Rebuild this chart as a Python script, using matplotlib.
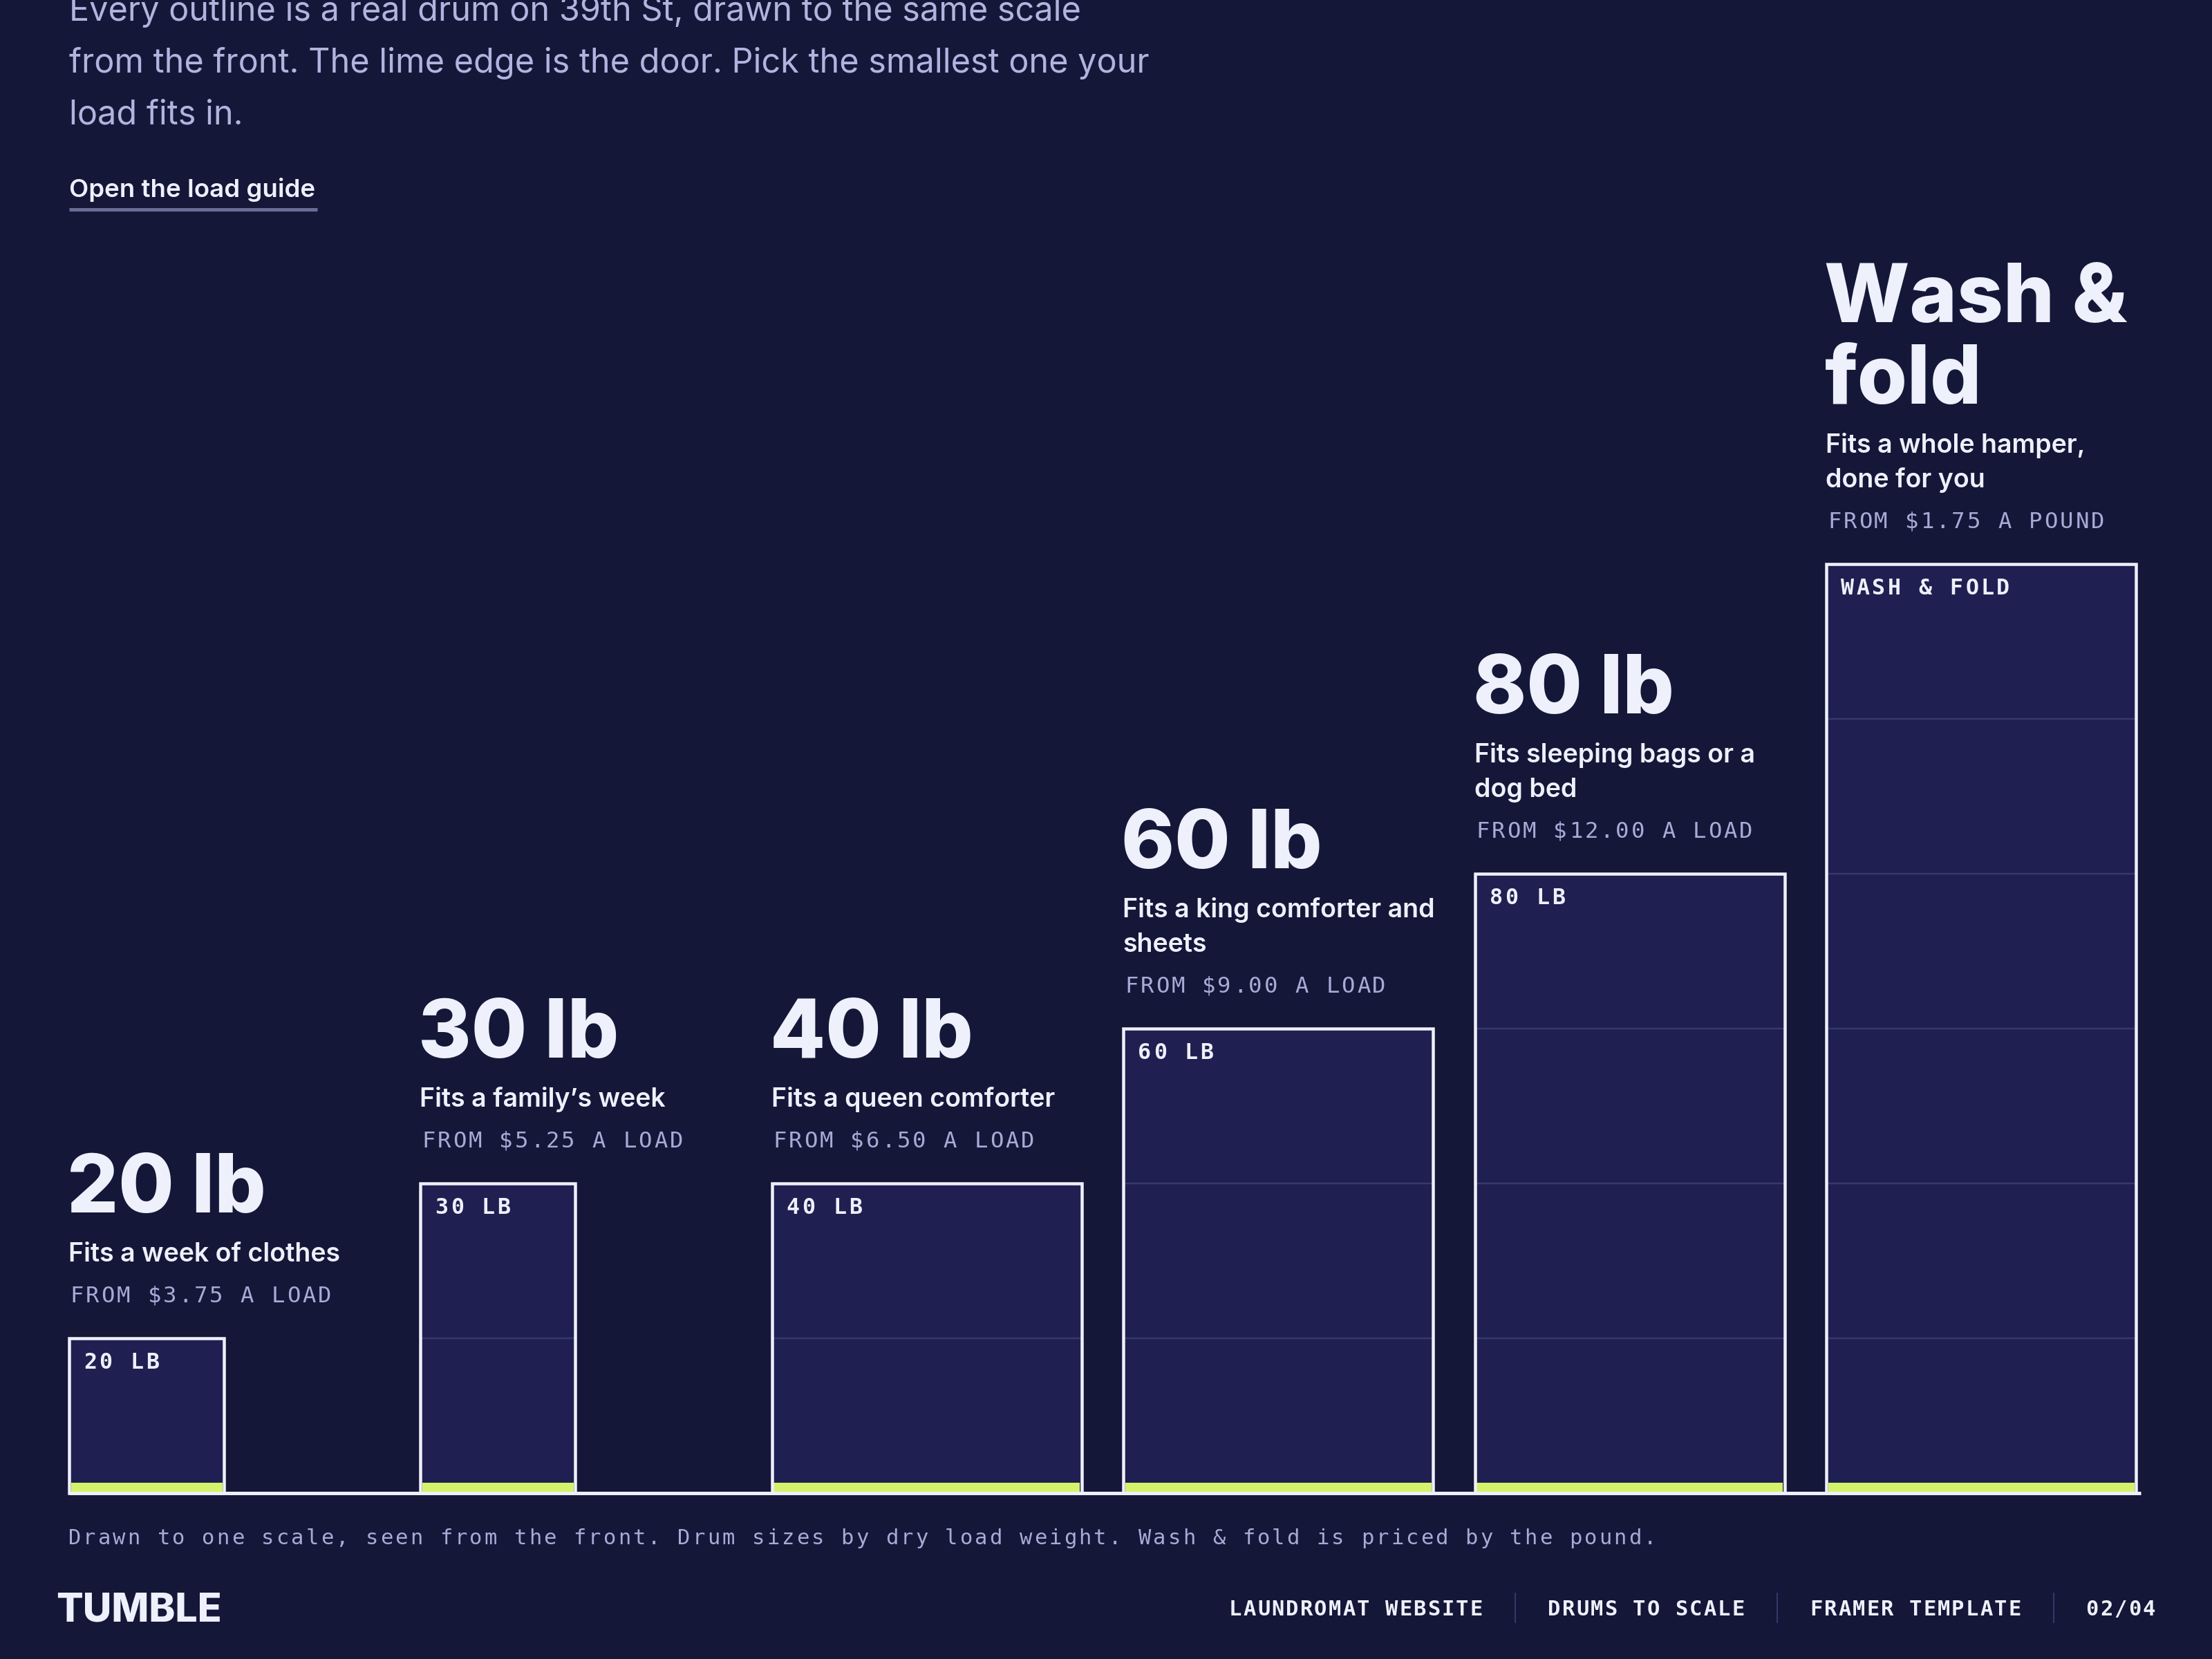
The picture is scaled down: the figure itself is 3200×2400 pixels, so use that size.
import matplotlib
matplotlib.use("Agg")
import matplotlib.pyplot as plt

# drums, left to right
titles = ["20 lb", "30 lb", "40 lb", "60 lb", "80 lb", "Wash &\nfold"]
blurbs = ["Fits a week of clothes",
          "Fits a family\u2019s week",
          "Fits a queen comforter",
          "Fits a king comforter and\nsheets",
          "Fits sleeping bags or a\ndog bed",
          "Fits a whole hamper,\ndone for you"]
prices = ["FROM $3.75 A LOAD", "FROM $5.25 A LOAD", "FROM $6.50 A LOAD",
          "FROM $9.00 A LOAD", "FROM $12.00 A LOAD", "FROM $1.75 A POUND"]
tags = ["20 LB", "30 LB", "40 LB", "60 LB", "80 LB", "WASH & FOLD"]
drum_w = [1, 1, 2, 2, 2, 2]   # front width in grid cells
drum_h = [1, 2, 2, 3, 4, 6]   # front height in grid cells

intro = ["Every outline is a real drum on 39th St, drawn to the same scale",
         "from the front. The lime edge is the door. Pick the smallest one your",
         "load fits in."]
link = "Open the load guide"
note = ("Drawn to one scale, seen from the front. Drum sizes by dry load weight. "
        "Wash & fold is priced by the pound.")
brand = "TUMBLE"
crumbs = ["LAUNDROMAT WEBSITE", "DRUMS TO SCALE", "FRAMER TEMPLATE", "02/04"]

BG = "#151739"
FILL = "#1f2051"
EDGE = "#eef0fb"
GRID = "#363970"
LIME = "#d3f36b"
INK = "#eef0fb"
MUTED = "#a7abd6"
INTRO = "#b0b4de"
RULE = "#6b6d96"
SEP = "#34376a"

SANS = ["Inter", "DejaVu Sans"]
MONO = ["DejaVu Sans Mono"]
plt.rcParams["font.family"] = SANS

DPI = 200
PT = 72 / DPI      # points per pixel
CELL = 224         # pixels per grid cell
PITCH = 2.27       # column pitch in cells

fig = plt.figure(figsize=(16, 12), dpi=DPI, facecolor=BG)
ax = fig.add_axes([0, 0, 1, 1])
ax.set_facecolor(BG)
ax.set_xlim(-100 / CELL, 3100 / CELL)
ax.set_ylim(-240 / CELL, 2160 / CELL)
ax.axis("off")


def px(x, y):
    # page pixel -> data
    return ((x - 100) / CELL, (2160 - y) / CELL)


def put(xy, s, dx=0, dy=0, ha="left", **kw):
    ax.annotate(s, xy, xytext=(dx * PT, -dy * PT), textcoords="offset points",
                ha=ha, va="baseline", annotation_clip=False, **kw)


def spaced(xy, s, step, dx=0, dy=0, **kw):
    # monospace with letter spacing: one glyph per cell
    for i, ch in enumerate(s):
        if ch.strip():
            put(xy, ch, dx + (i + 0.5) * step, dy, ha="center", family=MONO, **kw)


lefts = [i * PITCH for i in range(len(titles))]

ax.bar(lefts, drum_h, width=drum_w, align="edge", color=FILL, linewidth=0, zorder=2)
for l, w, h in zip(lefts, drum_w, drum_h):
    ax.hlines(range(1, h), l, l + w, color=GRID, linewidth=2.5 * PT, zorder=3)
inset = 2.5 / CELL
ax.bar([l + inset for l in lefts], 12.5 / CELL, width=[w - 2 * inset for w in drum_w],
       bottom=2.5 / CELL, align="edge", color=LIME, linewidth=0, zorder=3)
ax.bar(lefts, drum_h, width=drum_w, align="edge", fill=False, edgecolor=EDGE,
       linewidth=4.5 * PT, zorder=4)
ax.hlines(0, 0, lefts[-1] + drum_w[-1] + 0.03, color=EDGE, linewidth=5 * PT, zorder=5)

for i in range(len(titles)):
    top = (lefts[i], drum_h[i])
    spaced(top, tags[i], 22.5, dx=19, dy=44, fontsize=11.4, weight="bold", color=INK)
    spaced(top, prices[i], 22.4, dx=0, dy=-52, fontsize=11.6, color=MUTED)
    lines = blurbs[i].split("\n")
    for k, line in enumerate(reversed(lines)):
        put(top, line, dx=-1, dy=-111 - 50 * k, fontsize=13.5, weight="semibold", color=INK)
    first = -111 - 50 * (len(lines) - 1)
    for k, line in enumerate(reversed(titles[i].split("\n"))):
        put(top, line, dx=-3, dy=first - 71 - 118 * k, fontsize=42, weight="heavy", color=INK)

# header
for k, line in enumerate(intro):
    put(px(100, 30 + 75 * k), line, fontsize=17.5, color=INTRO)
put(px(100, 285), link, fontsize=13.2, weight="semibold", color=INK)
x0, y0 = px(100, 302.5)
x1, _ = px(459, 302.5)
ax.hlines(y0, x0, x1, color=RULE, linewidth=5 * PT)

# footnote
spaced(px(97, 2234), note, 21.5, fontsize=11, color=MUTED)

# footer
put(px(81, 2346), brand, fontsize=20.6, weight="heavy", color=INK)
right = 3119
step = 20.5
for j, crumb in enumerate(reversed(crumbs)):
    start = right - len(crumb) * step
    spaced(px(start, 2337), crumb, step, fontsize=11, weight="bold", color=INK)
    if j < len(crumbs) - 1:
        sx, sy0 = px(start - 46, 2304)
        _, sy1 = px(start - 46, 2348)
        ax.vlines(sx, sy1, sy0, color=SEP, linewidth=2 * PT)
        right = start - 92

fig.savefig("out.png", dpi=DPI, facecolor=BG)
